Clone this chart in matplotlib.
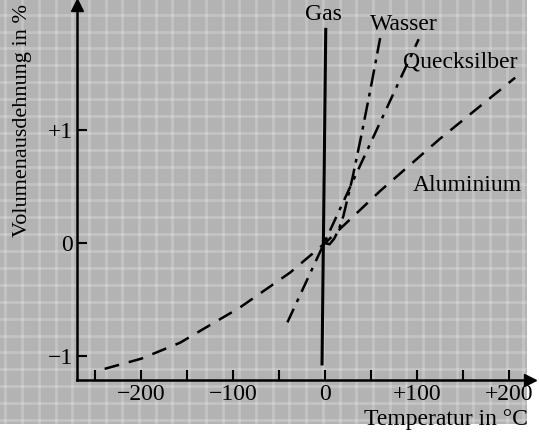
import numpy as np
import matplotlib.pyplot as plt
from matplotlib.patches import Rectangle
from matplotlib.lines import Line2D

# Temperatur in °C / Volumenausdehnung in %
gas_T = [-3.3, 0.8]
gas_V = [-1.08, 1.90]

wasser_T = [0, 5, 10, 15, 20, 30, 40, 50, 60]
wasser_V = [0, -0.01, 0.04, 0.12, 0.24, 0.58, 0.97, 1.38, 1.81]

hg_T = [-41, 102]
hg_V = [-0.70, 1.80]

alu_T = [-240, -200, -158, -93, -38, 0, 60, 125, 207]
alu_V = [-1.11, -1.02, -0.88, -0.57, -0.26, 0, 0.46, 0.92, 1.46]

x_ticks = [-250, -200, -150, -100, -50, 0, 50, 100, 150, 200]
x_labels = ["", "\u2212200", "", "\u2212100", "", "0", "", "+100", "", "+200"]
y_ticks = [-1, 0, 1]
y_labels = ["\u22121", "0", "+1"]

plt.rcParams["font.family"] = ["Liberation Serif", "DejaVu Serif"]
fs = 17

fig = plt.figure(figsize=(5.39, 4.33), dpi=100)
fig.patch.set_facecolor("white")
fig.add_artist(Rectangle((0, 0.02), 0.978, 0.98, transform=fig.transFigure,
                         facecolor="#b3b3b3", edgecolor="none", zorder=-10))
# paper weave texture
for gx in np.arange(0.01, 0.975, 0.031):
    fig.add_artist(Line2D([gx, gx], [0.02, 1.0], transform=fig.transFigure,
                          color="white", lw=2, alpha=0.22, zorder=-9))
for gy in np.arange(0.03, 1.0, 0.039):
    fig.add_artist(Line2D([0, 0.978], [gy, gy], transform=fig.transFigure,
                          color="white", lw=2, alpha=0.22, zorder=-9))

ax = fig.add_axes([0.143, 0.122, 0.840, 0.866])
ax.set_facecolor("none")
ax.set_xlim(-270, 223)
ax.set_ylim(-1.21, 2.1)

ax.plot(gas_T, gas_V, color="black", lw=2.2, solid_capstyle="butt")
ax.plot(wasser_T, wasser_V, color="black", lw=1.8, ls=(0, (7, 2.5, 1.5, 2.5)))
ax.plot(hg_T, hg_V, color="black", lw=1.8, ls=(0, (6, 3, 1.5, 3)))
ax.plot(alu_T, alu_V, color="black", lw=1.8, ls=(0, (6, 4)))

for s in ["top", "right"]:
    ax.spines[s].set_visible(False)
for s in ["left", "bottom"]:
    ax.spines[s].set_linewidth(1.8)

ax.plot(1, 0, ">k", ms=8, transform=ax.transAxes, clip_on=False)
ax.plot(0, 1, "^k", ms=8, transform=ax.transAxes, clip_on=False)

ax.set_xticks(x_ticks)
ax.set_xticklabels(x_labels)
ax.set_yticks(y_ticks)
ax.set_yticklabels(y_labels)
ax.tick_params(direction="in", length=7, width=1.5, labelsize=fs, pad=3)

ax.text(-2, 2.02, "Gas", ha="center", va="center", fontsize=fs)
ax.text(86, 1.93, "Wasser", ha="center", va="center", fontsize=fs)
ax.text(147, 1.60, "Quecksilber", ha="center", va="center", fontsize=fs)
ax.text(155, 0.51, "Aluminium", ha="center", va="center", fontsize=fs)

fig.text(0.98, 0.032, "Temperatur in \u00b0C", ha="right", va="center", fontsize=fs)
fig.text(0.042, 0.99, "Volumenausdehnung in %", ha="center", va="top",
         rotation=90, fontsize=16)

fig.savefig("out.png", dpi=100)
